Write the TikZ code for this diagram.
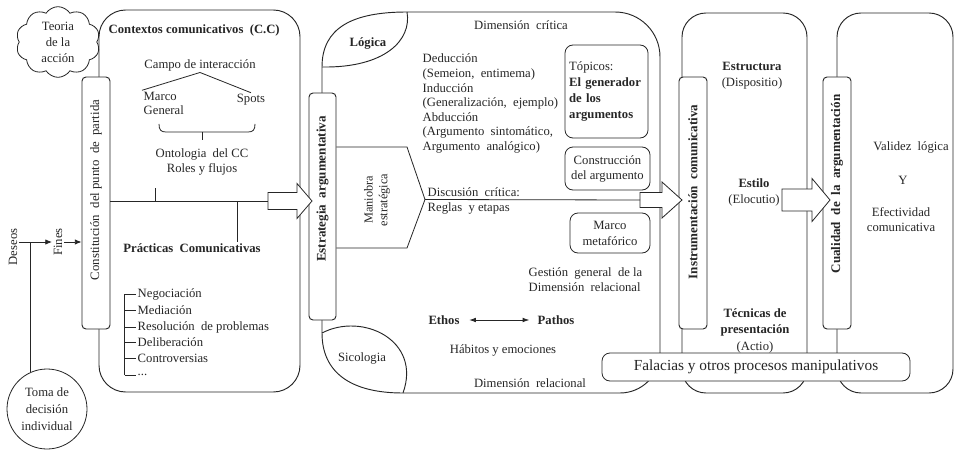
\documentclass[tikz,border=0pt]{standalone}
\usepackage{fontspec}
\setmainfont{Liberation Serif}
\usetikzlibrary{arrows.meta,shapes.symbols,fit,calc}

\begin{document}
\begin{tikzpicture}[x=0.75pt,y=-0.75pt,
  color=black!85,
  line width=0.6pt,
  every node/.style={inner sep=1pt},
  txt/.style={font=\fontsize{9.5}{10.9}\selectfont},
  btxt/.style={font=\fontsize{9.5}{10.9}\selectfont\bfseries},
  bartxt/.style={rotate=90, font=\fontsize{9.6}{11}\selectfont},
  region/.style={draw, line width=0.7pt, rounded corners=20pt, inner sep=0pt},
  barbox/.style={draw, fill=white, line width=0.7pt, rounded corners=3pt, inner sep=0pt},
  pill/.style={draw, fill=white, rounded corners=6pt, line width=0.6pt},
  dart/.style={-{Latex[length=5pt,width=4pt]}},
  hollow/.style={draw, fill=white, line width=0.6pt, line join=miter},
]
\fill[white] (0,0) rectangle (955,449);
\useasboundingbox (0,0) rectangle (955,449);

% ---------- regions ----------
\node[region, fit={(99,10) (300,392)}] (ctx) {};
% critical / relational dimension, with the two leaf corners
\draw[line width=0.7pt] (322,67) .. controls (322,28) and (352,12) .. (407,12)
  -- (615,12) .. controls (640,12) and (660,32) .. (660,57)
  -- (660,353) .. controls (660,375) and (642,393) .. (620,393)
  -- (403,393) .. controls (350,393) and (322,372) .. (322,333) -- cycle;
\draw[line width=0.7pt] (322,67) .. controls (385,68) and (412,40) .. (407,12);
\draw[line width=0.7pt] (322,333) .. controls (362,312) and (422,340) .. (403,393);
\node[region, rounded corners=18pt, fit={(682,13) (807,393)}] (instr) {};
\node[region, rounded corners=18pt, fit={(837,13) (953,393)}] (qual) {};

% ---------- vertical bars ----------
\node[barbox, fit={(82,77) (110,329)}] (b1) {};
\node[barbox, fit={(309,93) (336,320)}] (b2) {};
\node[barbox, fit={(679,77) (707,329)}] (b3) {};
\node[barbox, fit={(823,77) (851,329)}] (b4) {};
\node[bartxt] (b1t) at (96,190) {Constitución\ \ del punto\ \ de\ \ partida};
\node[bartxt, font=\fontsize{9.8}{11}\selectfont\bfseries] (b2t) at (322.5,189) {Estrategia\ \ argumentativa};
\node[bartxt, font=\fontsize{9.8}{11}\selectfont\bfseries] (b3t) at (693,192) {Instrumentación\ \ comunicativa};
\node[bartxt, font=\fontsize{9.8}{11}\selectfont\bfseries] (b4t) at (837,184) {Cualidad\ \ de\ \ la\ \ argumentación};

% ---------- hollow block arrows ----------
\coordinate (a1) at (268,201);
\coordinate (a2) at (640,200);
\coordinate (a3) at (782,200);
\draw[hollow] (268,192.5) -- (297,192.5) -- (297,183.5) -- (312,201) -- (297,218.5) -- (297,209.5) -- (268,209.5) -- cycle;
\draw[hollow] (640,192.5) -- (662,192.5) -- (662,182) -- (682,200) -- (662,218) -- (662,207.5) -- (640,207.5) -- cycle;
\draw[hollow] (782,189) -- (812,189) -- (812,178.5) -- (830,200) -- (812,221.5) -- (812,211) -- (782,211) -- cycle;

% ---------- left side: wishes, aims, decision ----------
\node[cloud, cloud puffs=10, cloud puff arc=115, aspect=1.2, draw, fill=white,
  minimum width=63pt, minimum height=53pt, inner sep=0pt, align=center,
  font=\fontsize{9.5}{12}\selectfont] (teoria) at (58,42) {Teoria\\de la\\acción};
\node[circle, draw, fill=white, minimum size=60pt, inner sep=0pt, align=center,
  font=\fontsize{9.5}{12.5}\selectfont] (toma) at (47,409) {Toma de\\decisión\\individual};
\node[txt, rotate=90] (deseos) at (13,247) {Deseos};
\node[txt, rotate=90] (fines) at (58,242) {Fines};
\draw[dart] (deseos.south |- fines) -- (fines.north);
\draw[dart] (fines.south) -- (fines.south -| b1.west);
\draw (toma.114 |- fines) -- (toma.114);

% ---------- communicative contexts ----------
\node[btxt, anchor=west] (ctxtitle) at (107,30) {Contextos comunicativos\ \ (C.C)};
\node[txt] (campo) at (200,65) {Campo de interacción};
\node[txt, align=left, anchor=west] (marco) at (142,103.5) {Marco\\General};
\node[txt] (spots) at (251,100) {Spots};
\draw (campo.south) -- (marco.north west);
\draw (campo.south) -- (spots.north);
\coordinate (bmid) at (202,132);
\draw (159,124) .. controls (159,130) and (161,132) .. (166,132) -- (248,132)
  .. controls (253,132) and (255,130) .. (255,124);
\draw (bmid) -- ++(0,8);
\node[txt, align=center] (onto) at (202,162) {Ontologia\ \ del CC\\Roles y flujos};
\coordinate (j1) at (155,201);
\coordinate (j2) at (237,201);
\draw (b1.east |- a1) -- (a1);
\draw (j1) -- ++(0,-13);
\node[btxt] (practicas) at (192,248) {Prácticas\ \ Comunicativas};
\draw (j2) -- (j2 |- practicas.north);
\node[txt, anchor=west] (p1) at (136,294) {Negociación};
\node[txt, anchor=west] (p2) at (136,310) {Mediación};
\node[txt, anchor=west] (p3) at (136,327) {Resolución\ \ de problemas};
\node[txt, anchor=west] (p4) at (136,342) {Deliberación};
\node[txt, anchor=west] (p5) at (136,358) {Controversias};
\node[txt, anchor=west] (p6) at (136,375) {.{}.{}.};
\draw ([xshift=-8.5pt]p1.west) -- ([xshift=-8.5pt]p6.west);
\foreach \n in {p1,p2,p3,p4,p5,p6}
  \draw ([xshift=-8.5pt]\n.west) -- (\n.west);

% ---------- critical dimension ----------
\node[txt] (dimcrit) at (521,25) {Dimensión\ \ crítica};
\node[btxt] (logica) at (368,43) {Lógica};
\node[txt, align=left, anchor=west] (modos) at (421,103.5)
  {Deducción\\(Semeion,\ \ entimema)\\Inducción\\(Generalización,\ \ ejemplo)\\Abducción\\(Argumento\ \ sintomático,\\Argumento\ \ analógico)};
\node[pill, minimum width=62.25pt, minimum height=69.75pt, inner xsep=3pt, text width=56pt,
  align=left, font=\fontsize{9.5}{12.2}\selectfont] (topicos) at (606.5,91.5)
  {Tópicos:\\\textbf{El generador}\\\textbf{de los}\\\textbf{argumentos}};
\node[pill, minimum width=63.75pt, minimum height=32.25pt, align=center,
  font=\fontsize{9.5}{11.25}\selectfont] (constr) at (607.5,168.5) {Construcción\\del argumento};
\node[pill, minimum width=60pt, minimum height=30pt, align=center,
  font=\fontsize{9.5}{12}\selectfont] (metaf) at (610,233) {Marco\\metafórico};
% strategic manoeuvring
\draw (b2.east |- 0,147) -- (407,147) -- (425,199.5) coordinate (mtip) -- (407,248) -- (b2.east |- 0,248);
\node[rotate=90, align=center, font=\fontsize{9.2}{11}\selectfont] (maniobra) at (377,200) {Maniobra\\estratégica};
\draw (mtip) -- (a2);
\node[align=left, anchor=west, font=\fontsize{9.5}{11.25}\selectfont] (discusion) at (426,200.5)
  {Discusión\ \ crítica:\\Reglas\ \ y etapas};
\node[txt, align=left, anchor=west] (gestion) at (527,279.5) {Gestión\ \ general\ \ de la\\Dimensión\ \ relacional};

% ---------- relational dimension ----------
\node[btxt] (ethos) at (444,320) {Ethos};
\node[btxt] (pathos) at (556,320) {Pathos};
\draw[{Latex[length=5pt,width=3.5pt]}-{Latex[length=5pt,width=3.5pt]}, shorten <=6pt, shorten >=5pt] (ethos) -- (pathos);
\node[txt] (habitos) at (503,350) {Hábitos y emociones};
\node[txt] (dimrel) at (530,383) {Dimensión\ \ relacional};
\node[txt] (sicologia) at (362,358) {Sicologia};

% ---------- communicative instrumentation ----------
\node[align=center, font=\fontsize{9.5}{12}\selectfont] (estructura) at (752,76) {\textbf{Estructura}\\(Dispositio)};
\node[align=center, font=\fontsize{9.5}{12}\selectfont] (estilo) at (754,192.5) {\textbf{Estilo}\\(Elocutio)};
\node[align=center, font=\fontsize{9.5}{12.4}\selectfont] (tecnicas) at (755,330.5) {\textbf{Técnicas de}\\\textbf{presentación}\\(Actio)};

% ---------- quality of argumentation ----------
\node[txt] (validez) at (911,147) {Validez\ \ lógica};
\node[txt] (yy) at (903,180) {Y};
\node[align=center, font=\fontsize{9.5}{11.25}\selectfont] (efect) at (901,219.5) {Efectividad\\comunicativa};

% ---------- fallacies ----------
\node[pill, fit={(602,353) (910,381)}, inner sep=0pt] (falbox) {};
\node[font=\fontsize{11.5}{13}\selectfont] (falacias) at (falbox) {Falacias y otros procesos manipulativos};
\end{tikzpicture}
\end{document}
